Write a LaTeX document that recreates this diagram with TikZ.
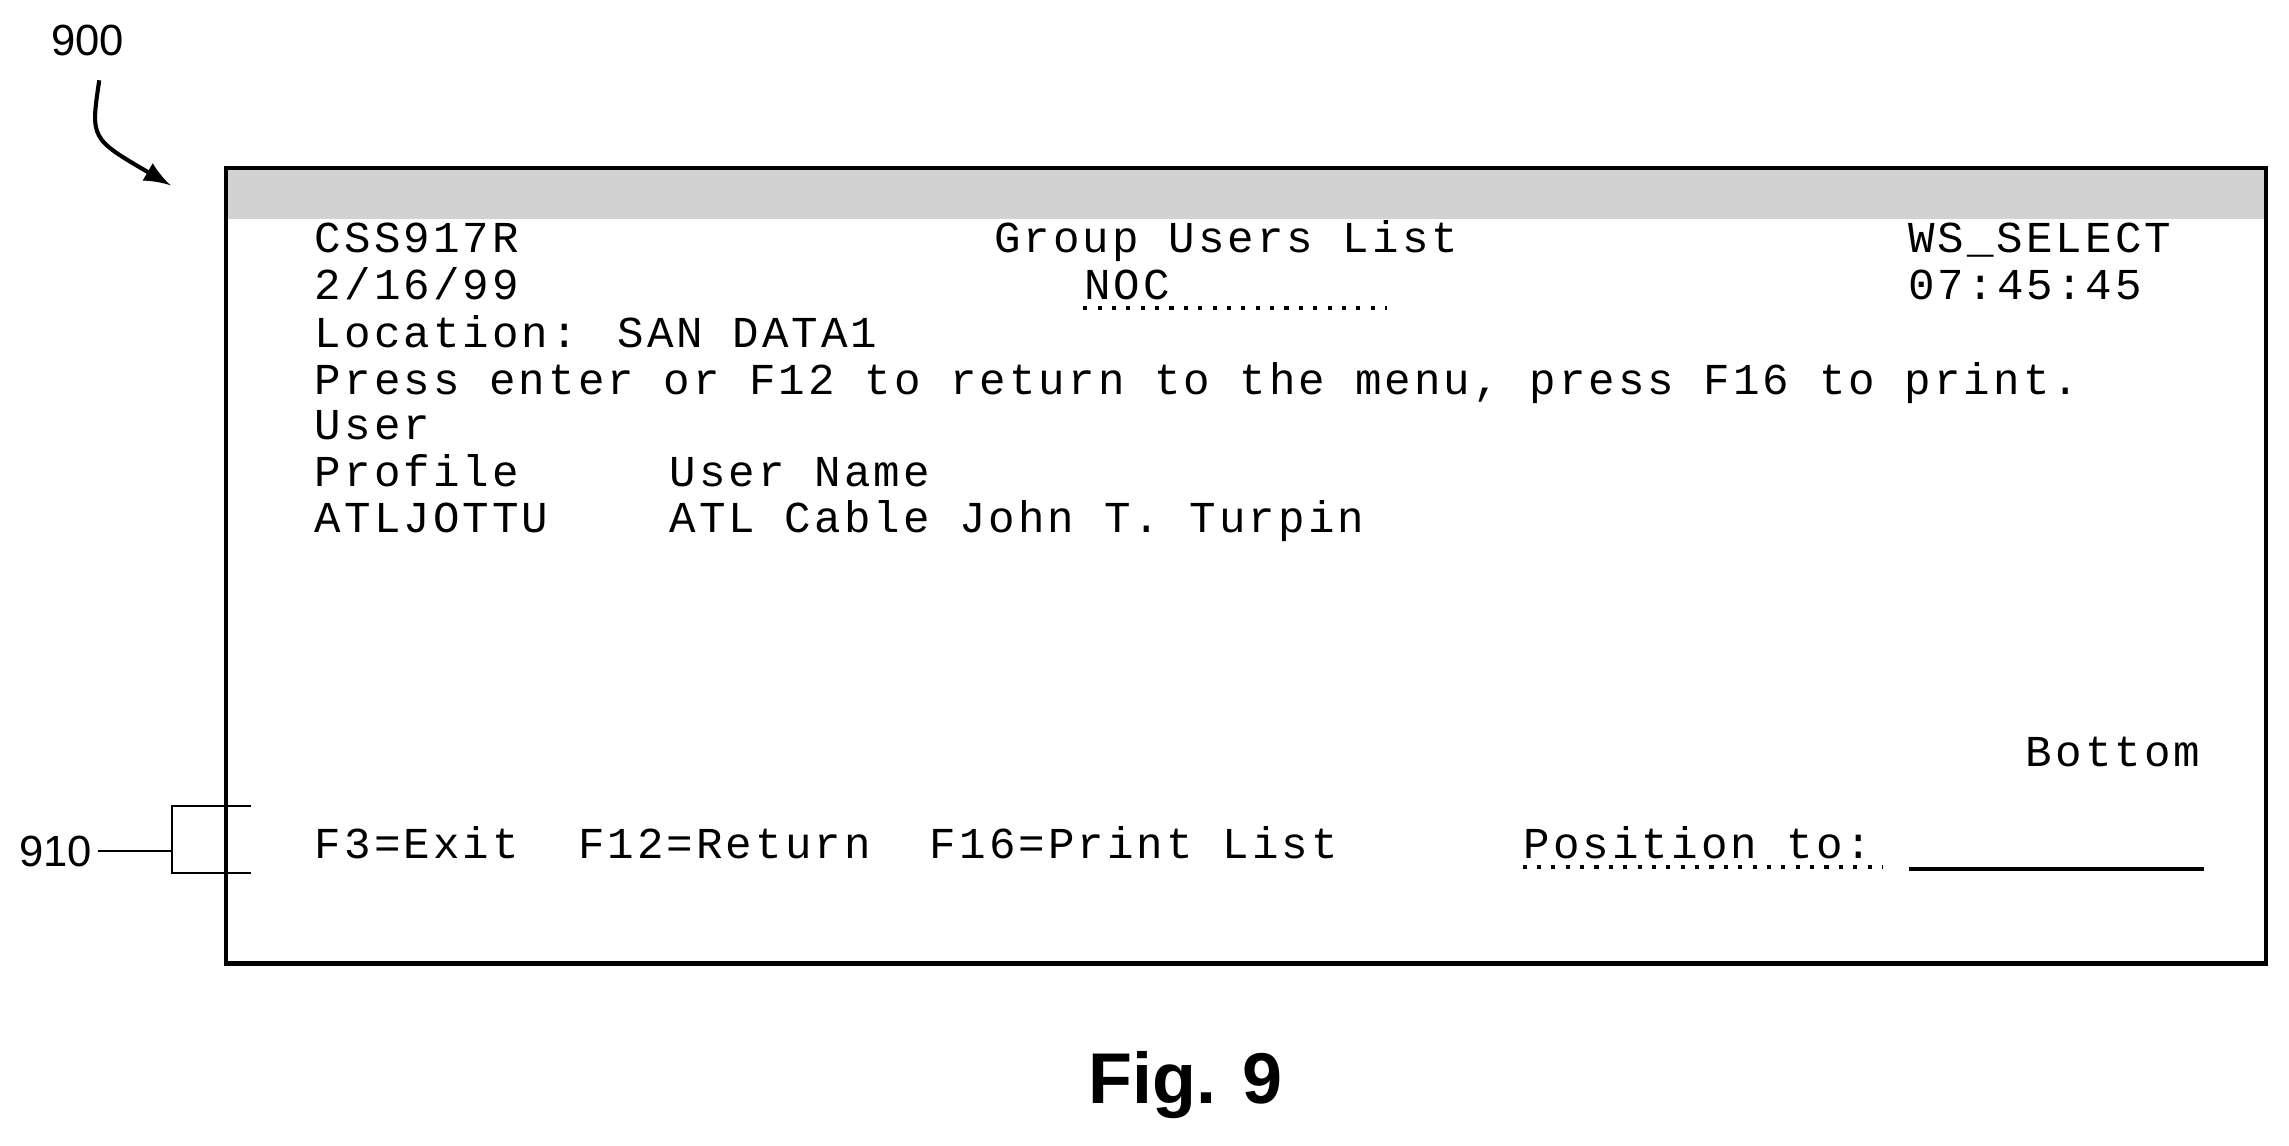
\documentclass[tikz,border=0pt]{standalone}
\usepackage{fontspec}
\setmainfont{Liberation Sans}
\newfontfamily\scrfont[LetterSpace=7]{Liberation Mono}
\usetikzlibrary{positioning}
\begin{document}
\begin{tikzpicture}[x=0.01cm, y=-0.01cm]
            % Styles
            \tikzstyle{screen} = [font=\scrfont\fontsize{8.6}{10}\selectfont, inner sep=0pt]
            \tikzstyle{refnum} = [font=\fontsize{8.5}{10}\selectfont, inner sep=1pt]
            \useasboundingbox (0,0) rectangle (1568,785);

            % Screen frame
            \fill[gray!35] (155,115) rectangle (1552,150);
            \draw[thick] (155,115) rectangle (1552,660);

            % Header lines
            \node[screen, anchor=base west] (prog) at (215,173) {CSS917R};
            \node[screen, anchor=base] (title) at (840,173) {Group Users List};
            \node[screen, anchor=base east] (ws) at (1488,173) {WS\_SELECT};
            \node[screen, anchor=base west] (date) at (215,205) {2/16/99};
            \node[screen, anchor=base west] (noc) at (742,205) {NOC};
            \node[screen, anchor=base east] (time) at (1468,205) {07:45:45};
            \draw[dotted, thick] (742,211) -- (950,211);
            \node[screen, anchor=base west] (loc) at (215,238) {Location: SAN DATA1};
            \node[screen, anchor=base west] (press) at (215,270) {Press enter or F12 to return to the menu, press F16 to print.};
            \node[screen, anchor=base west] (user) at (215,301) {User};
            \node[screen, anchor=base west] (prof) at (215,333) {Profile};
            \node[screen, anchor=base west] (uname) at (458,333) {User Name};
            \node[screen, anchor=base west] (row) at (215,365) {ATLJOTTU};
            \node[screen, anchor=base west] (rowname) at (458,365) {ATL Cable John T. Turpin};
            \node[screen, anchor=base east] (bottom) at (1508,525) {Bottom};

            % Function keys
            \node[screen, anchor=base west] (keys) at (215,588) {F3=Exit\ \ F12=Return\ \ F16=Print List};
            \node[screen, anchor=base west] (pos) at (1043,588) {Position to:};
            \draw[dotted, thick] (1043,594) -- (1290,594);
            \coordinate (fstart) at (1308,595);
            \coordinate (fend) at (1510,595);
            \draw[thick] (fstart) -- (fend);

            % Reference numerals
            \node[refnum] (n900) at (60,28) {900};
            \coordinate (s900) at (68,55);
            \coordinate (a900) at (117,127);
            \draw[-latex, thick] (s900) .. controls (62,95) .. (a900);
            \node[refnum] (n910) at (38,583) {910};
            \coordinate (b910) at (118,583);
            \draw (n910.east) -- (b910);
            \draw (172,552) -- (118,552) -- (118,598) -- (172,598);

            % Caption
            \node[font=\bfseries\fontsize{14}{16}\selectfont] (fig) at (812,743) {Fig. 9};
        \end{tikzpicture}
\end{document}
